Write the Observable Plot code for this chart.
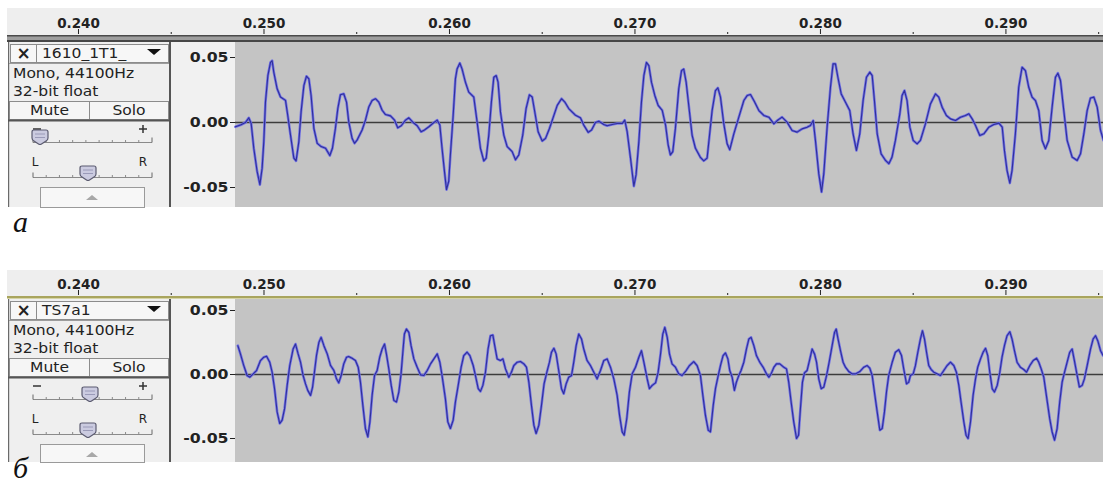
<!DOCTYPE html>
<html>
<head>
<meta charset="utf-8">
<script src="https://cdn.jsdelivr.net/npm/d3@7"></script>
<script src="https://cdn.jsdelivr.net/npm/@observablehq/plot@0.6"></script>
<style>
html,body{margin:0;padding:0;background:#fff;}
body{width:1103px;height:484px;overflow:hidden;position:relative;}
#chrome{position:absolute;left:0;top:0;}
.plotwrap{position:absolute;left:0;}
.plotwrap svg{display:block;}
</style>
</head>
<body>
<svg id="chrome" width="1103" height="484"></svg>
<script>
// ---------------- data ----------------
const rulerMajor = [240, 250, 260, 270, 280, 290];   // time, ms
const rulerMinor = [245, 255, 265, 275, 285, 295];
const ampTicks = [-0.05, 0, 0.05];
const trackNames = ["1610_1T1_", "TS7a1"];
const trackFormat = ["Mono, 44100Hz", "32-bit float"];
const buttons = ["Mute", "Solo"];
const panelLabels = ["а", "б"];

// waveform (а): [time ms, amplitude]
const waveA = [
[248.46,-0.0033],[248.73,-0.0020],[249.00,0],[249.18,0.0036],[249.31,-0.0008],[249.45,-0.0198],[249.63,-0.0376],[249.78,-0.0478],[249.90,-0.0351],[249.99,-0.0147],
[250.08,0.0157],[250.21,0.0361],[250.35,0.0462],[250.44,0.0475],[250.53,0.0386],[250.71,0.0259],[250.89,0.0196],[251.16,0.0170],[251.28,0.0056],[251.43,-0.0097],
[251.61,-0.0274],[251.73,-0.0295],[251.88,-0.0147],[252.00,0.0081],[252.15,0.0284],[252.29,0.0356],[252.42,0.0335],[252.54,0.0208],[252.69,-0.0046],[252.87,-0.0160],
[253.08,-0.0185],[253.32,-0.0198],[253.55,-0.0254],[253.69,-0.0198],[253.85,-0.0046],[253.98,0.0107],[254.12,0.0213],[254.30,0.0221],[254.45,0.0157],[254.57,0.0005],
[254.75,-0.0122],[254.88,-0.0160],[255.02,-0.0135],[255.29,-0.0058],[255.47,0.0018],[255.65,0.0119],[255.83,0.0170],[256.01,0.0183],[256.19,0.0157],[256.37,0.0094],
[256.55,0.0061],[256.82,0.0051],[257.04,0.0018],[257.21,-0.0041],[257.40,-0.0025],[257.63,0.0018],[257.81,0.0036],[258.04,0],[258.26,-0.0025],[258.47,-0.0071],
[258.65,-0.0058],[258.89,-0.0033],[259.16,0],[259.34,0.0018],[259.48,-0.0020],[259.60,-0.0198],[259.73,-0.0376],[259.84,-0.0516],[259.96,-0.0452],[260.05,-0.0249],
[260.20,0.0056],[260.32,0.0335],[260.41,0.0411],[260.56,0.0457],[260.68,0.0411],[260.86,0.0310],[261.04,0.0234],[261.31,0.0196],
[261.49,0.0005],[261.67,-0.0198],[261.85,-0.0295],[261.98,-0.0274],[262.12,-0.0097],[262.26,0.0157],[262.39,0.0348],[262.52,0.0361],[262.62,0.0310],[262.75,0.0081],
[262.93,-0.0097],[263.11,-0.0185],[263.38,-0.0224],[263.56,-0.0287],[263.74,-0.0249],[263.95,-0.0097],[264.13,0.0107],[264.31,0.0213],[264.46,0.0196],[264.60,0.0081],
[264.78,-0.0071],[265.00,-0.0142],[265.18,-0.0122],[265.39,-0.0046],[265.57,0.0030],[265.81,0.0132],[266.04,0.0183],[266.22,0.0157],[266.43,0.0107],[266.79,0.0056],
[267.06,0.0036],[267.24,-0.0020],[267.48,-0.0076],[267.66,-0.0058],[267.87,0],[268.05,0.0010],[268.32,-0.0015],[268.50,-0.0025],[268.77,-0.0015],[269.04,-0.0008],
[269.31,-0.0008],[269.45,0.0018],[269.58,-0.0071],[269.76,-0.0274],[269.94,-0.0490],[270.06,-0.0401],[270.21,-0.0147],[270.35,0.0157],[270.48,0.0361],[270.62,0.0462],
[270.75,0.0437],[270.89,0.0310],[271.07,0.0208],[271.25,0.0132],[271.47,0.0094],[271.65,-0.0020],[271.79,-0.0173],[271.91,-0.0249],[272.04,-0.0224],[272.18,-0.0046],
[272.36,0.0259],[272.51,0.0399],[272.63,0.0411],[272.76,0.0310],[272.94,0.0081],[273.08,-0.0097],[273.26,-0.0198],[273.53,-0.0269],[273.71,-0.0295],[273.89,-0.0274],
[274.16,0.0092],[274.34,0.0246],[274.47,0.0266],[274.61,0.0195],[274.79,-0.0010],[274.97,-0.0164],[275.11,-0.0210],[275.33,-0.0087],[275.60,0.0041],[275.87,0.0169],
[276.05,0.0207],[276.23,0.0215],[276.41,0.0169],[276.68,0.0092],[276.95,0.0054],[277.22,0.0041],[277.49,-0.0010],[277.67,0.0015],[277.93,0.0041],[278.20,0.0003],
[278.47,-0.0061],[278.74,-0.0074],[279.01,-0.0049],[279.28,-0.0036],[279.46,-0.0023],[279.61,0.0015],[279.73,-0.0138],[279.91,-0.0394],[280.06,-0.0535],[280.18,-0.0394],
[280.36,-0.0036],[280.54,0.0271],[280.68,0.0451],[280.81,0.0451],[280.94,0.0348],[281.12,0.0220],[281.35,0.0156],[281.58,0.0092],[281.76,-0.0087],[281.94,-0.0215],
[282.12,-0.0087],[282.30,0.0169],[282.48,0.0348],[282.66,0.0387],[282.79,0.0361],[282.91,0.0169],[283.06,-0.0087],[283.27,-0.0241],[283.51,-0.0292],[283.69,-0.0317],
[283.86,-0.0266],[284.04,-0.0138],[284.28,0.0067],[284.40,0.0207],[284.53,0.0246],[284.67,0.0169],[284.82,-0.0036],[285.00,-0.0138],[285.21,-0.0164],[285.39,-0.0138],
[285.66,-0.0010],[285.93,0.0143],[286.20,0.0220],[286.38,0.0195],[286.56,0.0118],[286.79,0.0054],[287.01,0.0028],[287.28,0.0015],[287.55,0.0041],[287.82,0.0054],
[288.00,0.0067],[288.18,0.0028],[288.36,-0.0023],[288.59,-0.0100],[288.81,-0.0087],[289.08,-0.0036],[289.35,-0.0015],[289.62,-0.0005],[289.80,-0.0036],[289.92,-0.0215],
[290.06,-0.0369],[290.21,-0.0466],[290.33,-0.0369],[290.51,-0.0087],[290.69,0.0271],[290.87,0.0425],[291.05,0.0399],[291.23,0.0271],[291.41,0.0195],[291.59,0.0169],
[291.77,0.0092],[291.95,-0.0138],[292.13,-0.0202],[292.31,-0.0138],[292.49,0.0118],[292.67,0.0348],[292.80,0.0379],[292.94,0.0323],[293.12,0.0092],[293.30,-0.0138],
[293.57,-0.0266],[293.84,-0.0292],[294.02,-0.0241],[294.20,-0.0087],[294.38,0.0092],[294.56,0.0189],[294.74,0.0195],[294.92,0.0118],[295.10,-0.0061],[295.26,-0.0138]
];

// waveform (б): [time ms, amplitude]
const waveB = [
[248.59,0.0225],[248.73,0.0161],[248.91,0.0070],[249.09,-0.0008],[249.24,-0.0021],[249.42,0.0005],[249.60,0.0031],[249.81,0.0109],[249.99,0.0135],[250.14,0.0142],
[250.31,0.0096],[250.44,0.0018],[250.57,-0.0111],[250.71,-0.0293],[250.85,-0.0383],[250.98,-0.0357],[251.11,-0.0267],[251.25,-0.0085],[251.39,0.0070],[251.57,0.0199],
[251.70,0.0238],[251.84,0.0161],[251.97,0.0096],[252.11,-0.0008],[252.24,-0.0073],[252.36,-0.0124],[252.51,-0.0163],[252.62,-0.0098],[252.72,0.0018],[252.83,0.0148],
[252.96,0.0251],[253.08,0.0290],[253.23,0.0225],[253.41,0.0161],[253.59,0.0070],[253.77,0.0031],[253.91,-0.0034],[254.03,-0.0065],[254.16,-0.0008],[254.30,0.0083],
[254.45,0.0135],[254.57,0.0140],[254.75,0.0127],[254.93,0.0109],[255.08,0.0057],[255.20,-0.0060],[255.33,-0.0241],[255.47,-0.0422],[255.60,-0.0487],[255.71,-0.0370],
[255.83,-0.0163],[255.96,-0.0008],[256.10,0.0031],[256.24,0.0135],[256.37,0.0199],[256.50,0.0238],[256.60,0.0161],[256.73,0.0044],[256.86,-0.0085],[257.00,-0.0202],
[257.14,-0.0215],[257.27,-0.0137],[257.39,0.0005],[257.50,0.0199],[257.57,0.0316],[257.68,0.0355],[257.81,0.0329],[257.93,0.0225],[258.08,0.0122],[258.26,0.0057],
[258.44,-0.0003],[258.62,-0.0008],[258.80,0.0031],[258.98,0.0083],[259.16,0.0122],[259.34,0.0161],[259.48,0.0096],[259.60,-0.0008],[259.78,-0.0189],[259.91,-0.0370],
[260.05,-0.0422],[260.20,-0.0357],[260.32,-0.0215],[260.47,-0.0085],[260.63,0.0057],[260.77,0.0148],[260.95,0.0174],[261.10,0.0148],[261.28,0.0070],[261.40,-0.0008],
[261.55,-0.0111],[261.67,-0.0132],[261.80,-0.0085],[261.94,0.0018],[262.08,0.0199],[262.21,0.0303],[262.34,0.0308],[262.44,0.0225],[262.57,0.0122],[262.75,0.0109],
[262.88,0.0122],[263.02,0.0044],[263.20,-0.0021],[263.34,0.0018],[263.47,0.0070],[263.65,0.0096],[263.83,0.0101],[264.01,0.0083],[264.15,0.0057],[264.28,-0.0060],
[264.42,-0.0241],[264.55,-0.0396],[264.67,-0.0461],[264.82,-0.0396],[264.96,-0.0241],[265.10,-0.0073],[265.25,0.0018],[265.39,0.0096],[265.50,0.0174],[265.63,0.0205],
[265.75,0.0161],[265.89,0.0031],[266.04,-0.0111],[266.16,-0.0150],[266.29,-0.0073],[266.43,-0.0021],[266.58,-0.0008],[266.70,0.0096],[266.83,0.0225],[266.97,0.0316],
[267.12,0.0277],[267.24,0.0199],[267.42,0.0109],[267.60,0.0070],[267.78,0.0018],[267.96,-0.0034],[268.14,0.0031],[268.32,0.0109],[268.50,0.0122],[268.68,0.0057],
[268.86,-0.0034],[269.04,-0.0163],[269.17,-0.0319],[269.31,-0.0448],[269.42,-0.0474],[269.56,-0.0344],[269.70,-0.0137],[269.85,0.0005],[270.03,0.0057],[270.21,0.0135],
[270.35,0.0186],[270.48,0.0096],[270.66,-0.0034],[270.78,-0.0111],[270.93,-0.0085],[271.11,-0.0065],[271.25,0.0018],[271.38,0.0161],[271.50,0.0316],[271.61,0.0368],
[271.74,0.0290],[271.86,0.0161],[272.00,0.0083],[272.18,0.0057],[272.36,0.0005],[272.54,-0.0008],[272.76,0.0031],[272.94,0.0070],[273.17,0.0101],[273.35,0.0070],
[273.53,-0.0008],[273.66,-0.0163],[273.80,-0.0319],[273.95,-0.0435],[274.07,-0.0448],
[274.22,-0.0241],[274.34,-0.0111],[274.47,-0.0021],[274.61,0.0070],[274.75,0.0148],[274.88,0.0168],[275.01,0.0122],[275.11,0.0031],[275.24,-0.0021],[275.36,-0.0124],
[275.47,-0.0060],[275.60,-0.0008],[275.72,0.0031],[275.87,0.0096],[276.01,0.0199],[276.14,0.0277],[276.26,0.0290],[276.41,0.0225],[276.55,0.0148],[276.73,0.0096],
[276.91,0.0057],[277.09,0.0005],[277.22,-0.0021],[277.34,0.0005],[277.49,0.0057],[277.63,0.0083],[277.81,0.0083],[278.02,0.0057],[278.17,0.0044],[278.29,-0.0060],
[278.42,-0.0215],[278.56,-0.0370],[278.71,-0.0500],[278.82,-0.0474],[278.92,-0.0267],[279.03,-0.0060],[279.14,0.0013],[279.28,0.0031],[279.43,0.0122],[279.55,0.0199],
[279.68,0.0161],[279.79,0.0096],[279.91,-0.0034],[280.04,-0.0111],[280.18,-0.0098],[280.33,-0.0008],[280.47,0.0096],[280.63,0.0225],[280.76,0.0329],[280.85,0.0355],
[280.95,0.0277],[281.08,0.0186],[281.22,0.0096],[281.35,0.0057],[281.53,0.0023],[281.71,0.0005],[281.89,0.0005],[282.12,0.0023],[282.34,0.0057],[282.52,0.0070],
[282.66,0.0049],[282.79,-0.0008],[282.91,-0.0137],[283.06,-0.0293],[283.20,-0.0435],[283.33,-0.0422],[283.45,-0.0293],[283.56,-0.0137],[283.68,-0.0008],[283.87,0.0096],
[284.04,0.0174],[284.22,0.0194],[284.37,0.0148],[284.49,0.0044],[284.64,-0.0073],[284.76,-0.0060],[284.85,-0.0008],
[285.00,0.0005],[285.12,0.0070],[285.25,0.0174],[285.39,0.0277],[285.50,0.0342],[285.61,0.0277],[285.72,0.0174],[285.84,0.0070],[285.97,0.0039],[286.11,0.0018],
[286.29,0.0005],[286.47,-0.0008],[286.65,0.0031],[286.83,0.0070],[287.01,0.0096],[287.19,0.0070],[287.33,0.0018],[287.46,-0.0085],[287.58,-0.0215],[287.73,-0.0370],
[287.85,-0.0474],[287.96,-0.0500],[288.09,-0.0370],[288.23,-0.0163],[288.36,-0.0034],[288.48,0.0057],[288.63,0.0122],[288.77,0.0174],[288.90,0.0205],[289.02,0.0148],
[289.13,0.0018],[289.26,-0.0111],[289.38,-0.0137],[289.53,-0.0085],[289.67,0.0018],[289.79,0.0135],[289.92,0.0225],[290.06,0.0303],[290.21,0.0334],[290.33,0.0277],
[290.46,0.0186],[290.60,0.0096],[290.78,0.0057],[290.96,0.0039],[291.11,0.0018],[291.29,0.0070],[291.47,0.0109],[291.65,0.0127],[291.77,0.0096],[291.90,0.0044],
[292.04,-0.0021],[292.18,-0.0163],[292.36,-0.0344],[292.49,-0.0448],[292.62,-0.0513],[292.76,-0.0422],[292.90,-0.0215],[293.03,-0.0060],[293.16,0.0018],[293.30,0.0096],
[293.44,0.0174],[293.57,0.0199],[293.69,0.0109],[293.84,-0.0008],[293.96,-0.0098],[294.11,-0.0085],[294.23,-0.0034],[294.38,0.0070],[294.56,0.0199],[294.70,0.0277],
[294.83,0.0303],[294.95,0.0264],[295.10,0.0186],[295.24,0.0148]
];

// ---------------- layout ----------------
const W = 1103;
const xDomain = [235.795, 295.26];   // visible time window (ms)
const panels = [
  {top: 0,   h: 210, rulerTop: 8, rulerBottom: 35, axisAt: 33, sep: "dark",  trackTop: 42, trackBottom: 207, y05: 57, yN05: 187, gain: 40, pan: 88, labelBase: 232, wave: waveA},
  {top: 262, h: 205, rulerTop: 8, rulerBottom: 34, axisAt: 32, sep: "olive", trackTop: 37, trackBottom: 200, y05: 48, yN05: 176, gain: 90, pan: 88, labelBase: 478, wave: waveB}
];

// ---------------- window chrome (non-data) ----------------
const rect = (x, y, w, h, fill, extra = "") => `<rect x="${x}" y="${y}" width="${w}" height="${h}" fill="${fill}" ${extra}/>`;
const line = (x1, y1, x2, y2, stroke, sw = 1) => `<line x1="${x1}" y1="${y1}" x2="${x2}" y2="${y2}" stroke="${stroke}" stroke-width="${sw}"/>`;
const text = (x, y, str, o = {}) => {
  const {size = 13.5, weight = "normal", anchor = "start", fill = "#222", sx = 1.15, family = "DejaVu Sans", fstyle = "normal"} = o;
  return `<text transform="translate(${x},${y}) scale(${sx},1)" font-family="${family}" font-size="${size}" font-weight="${weight}" font-style="${fstyle}" text-anchor="${anchor}" fill="${fill}">${str}</text>`;
};
const thumb = (cx, cy) => `<g transform="translate(${cx},${cy})"><path d="M-8,-5 Q-8,-7 -6,-7 L6,-7 Q8,-7 8,-5 L8,1 Q8,3 6,4 L1.5,7 Q0,8 -1.5,7 L-6,4 Q-8,3 -8,1 Z" fill="#cbcbe0" stroke="#5b5b70" stroke-width="1.2"/><path d="M-5,-3 H5 M-5,0.5 H5" stroke="#9a9ab8" stroke-width="1"/></g>`;
const sliderTrack = (y) => {
  let r = line(33, y, 152, y, "#8a8a8a", 1);
  for (let k = 1; k < 9; k++) { const x = 33 + k * 119 / 9; r += line(x, y, x, y - 2.5, "#8a8a8a", 1); }
  r += line(33, y, 33, y - 5, "#666", 1) + line(152, y, 152, y - 5, "#666", 1);
  return r;
};

let s = "";
panels.forEach((P, i) => {
  const o = P.top, T = o + P.trackTop, B = o + P.trackBottom;
  s += rect(7, o + P.rulerTop, W - 7, P.rulerBottom - P.rulerTop, "#eeeeee");
  if (P.sep === "dark") {
    s += rect(7, o + 35, W - 7, 7, "#9e9e9e") + rect(7, o + 35, W - 7, 1.5, "#4a4a4a") + rect(7, o + 40, W - 7, 2, "#474747");
  } else {
    s += rect(7, o + 34, W - 7, 2, "#a9a55e") + rect(7, o + 36, W - 7, 1, "#d5d4a6");
  }
  s += rect(8, T, 163, B - T, "#efefef") + rect(171, T, 64, B - T, "#f1f1f1") + rect(235, T, W - 235, B - T, "#c4c4c4");
  s += rect(8, T, 1.2, B - T, "#6a6a6a") + rect(169, T, 2, B - T, "#555555");
  // title row
  s += rect(10.5, T + 2.5, 26, 18, "#f7f7f7", 'stroke="#8c8c8c"') + rect(36.5, T + 2.5, 132, 18, "#f7f7f7", 'stroke="#8c8c8c"');
  s += text(23.5, T + 16.5, "×", {size: 17, weight: "bold", anchor: "middle", sx: 1});
  s += text(42, T + 16, trackNames[i]);
  s += `<path d="M147,${T + 7} L161,${T + 7} L154,${T + 13} Z" fill="#111"/>`;
  s += line(9, T + 21.5, 169, T + 21.5, "#9c9c9c");
  s += text(13, T + 36, trackFormat[0]) + text(13, T + 54, trackFormat[1]);
  // mute / solo
  s += rect(9.5, T + 59.5, 80, 18, "#f5f5f5", 'stroke="#8c8c8c"') + rect(89.5, T + 59.5, 79, 18, "#f5f5f5", 'stroke="#8c8c8c"');
  s += text(49.5, T + 72.5, buttons[0], {anchor: "middle"}) + text(129, T + 72.5, buttons[1], {anchor: "middle"});
  s += rect(8, T + 77.5, 162, 2, "#555555");
  // gain slider
  s += line(33, T + 87, 41, T + 87, "#333", 1.5) + line(139, T + 87, 147, T + 87, "#333", 1.5) + line(143, T + 83, 143, T + 91, "#333", 1.5);
  s += sliderTrack(T + 100.5) + thumb(P.gain, T + 95);
  // pan slider
  s += text(35, T + 124, "L", {size: 12, anchor: "middle", sx: 1}) + text(143, T + 124, "R", {size: 12, anchor: "middle", sx: 1});
  s += sliderTrack(T + 135.5) + thumb(P.pan, T + 131);
  // collapse button
  s += rect(40.5, T + 145.5, 104, B - T - 145, "#f7f7f7", 'stroke="#9a9a9a"');
  s += `<path d="M86,${T + 158} L98,${T + 158} L92,${T + 153} Z" fill="#a8a8a8"/>`;
  // panel label
  s += text(13, P.labelBase, panelLabels[i], {size: 30, family: "Liberation Serif", fstyle: "italic", sx: 1, fill: "#111"});
});
document.getElementById("chrome").innerHTML = s;

// ---------------- plots ----------------
panels.forEach((P) => {
  const data = P.wave.map(([t, a]) => ({t, a}));
  const svg = Plot.plot({
    width: W, height: P.h,
    marginLeft: 235, marginRight: 0, marginTop: P.axisAt, marginBottom: 0,
    x: {domain: xDomain, range: [0, W], label: null},
    y: {domain: [-0.05, 0.05], range: [P.yN05, P.y05], label: null},
    style: {background: "transparent", overflow: "visible", fontFamily: "DejaVu Sans, sans-serif", color: "#222"},
    marks: [
      Plot.axisX(rulerMajor, {anchor: "top", label: null, tickSize: 5, tickPadding: 1, tickFormat: d => (d / 1000).toFixed(3), fontSize: 13.5, fontWeight: "bold"}),
      Plot.axisX(rulerMinor, {anchor: "top", label: null, tickSize: 2, tickFormat: () => ""}),
      Plot.axisY(ampTicks, {anchor: "left", label: null, tickSize: 5, tickPadding: 2, tickFormat: d => d.toFixed(2), fontSize: 14, fontWeight: "bold"}),
      Plot.ruleY([0], {stroke: "#3c3c3c", strokeWidth: 1.6}),
      Plot.line(data, {x: "t", y: "a", stroke: "#7070e6", strokeWidth: 2.6, strokeLinejoin: "round"}),
      Plot.line(data, {x: "t", y: "a", stroke: "#30309a", strokeWidth: 1.1, strokeLinejoin: "round"})
    ]
  });
  const wrap = document.createElement("div");
  wrap.className = "plotwrap";
  wrap.style.top = P.top + "px";
  wrap.appendChild(svg);
  document.body.appendChild(wrap);
  svg.querySelectorAll('[aria-label="y-axis tick label"] text').forEach(t => {
    const w = t.getComputedTextLength();
    t.setAttribute("textLength", (w * 1.12).toFixed(1));
    t.setAttribute("lengthAdjust", "spacingAndGlyphs");
  });
});
</script>
</body>
</html>
